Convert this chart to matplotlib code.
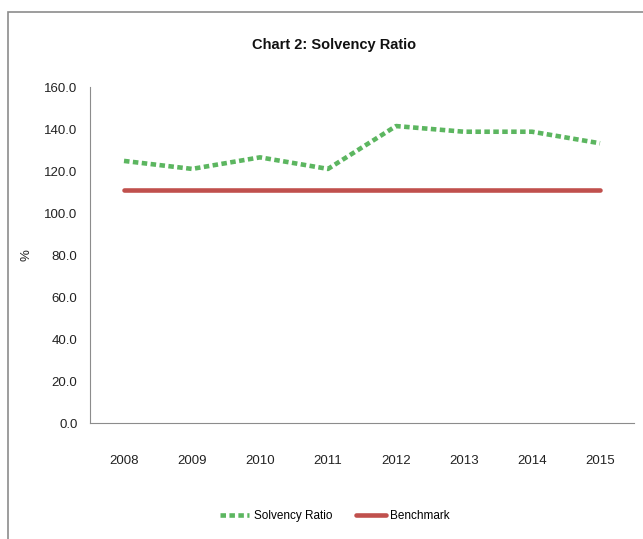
import matplotlib.pyplot as plt
from matplotlib.patches import Rectangle

years = ['2008', '2009', '2010', '2011', '2012', '2013', '2014', '2015']
solvency = [124.8, 121.0, 126.5, 121.0, 141.4, 138.7, 138.7, 133.2]
benchmark = [111, 111, 111, 111, 111, 111, 111, 111]

plt.rcParams['font.family'] = ['Liberation Sans', 'DejaVu Sans']

fig = plt.figure(figsize=(6.43, 5.39), dpi=100)
# outer chart frame
fig.patches.append(Rectangle((8 / 643, -0.05), 1.1, 1 - 12 / 539 + 0.05,
                             transform=fig.transFigure, fill=False,
                             edgecolor='#8c8c8c', linewidth=1.2))

ax = fig.add_axes([90 / 643, 1 - 423 / 539, 544 / 643, 336 / 539])
x = list(range(len(years)))
ax.plot(x, solvency, color='#5cb660', linewidth=3.3, linestyle=(0, (1.2, 0.75)),
        label='Solvency Ratio', dash_capstyle='butt')
ax.plot(x, benchmark, color='#c0504d', linewidth=3.3, label='Benchmark',
        solid_capstyle='round')

ax.set_xlim(-0.5, len(years) - 0.5)
ax.set_ylim(0, 160)
ax.set_yticks(range(0, 161, 20))
ax.set_yticklabels([f'{v:.1f}' for v in range(0, 161, 20)])
ax.set_xticks(x)
ax.set_xticklabels(years)
ax.tick_params(axis='both', length=0, labelsize=9.5, colors='#222222')
ax.tick_params(axis='y', pad=9)
ax.tick_params(axis='x', pad=23)
for side in ['top', 'right']:
    ax.spines[side].set_visible(False)
for side in ['left', 'bottom']:
    ax.spines[side].set_color('#8c8c8c')
ax.set_ylabel('%', fontsize=9.5, color='#222222')
ax.yaxis.set_label_coords(-(90 - 33) / 544, 0.5)

fig.text(334 / 643, 1 - 45 / 539, 'Chart 2: Solvency Ratio', ha='center',
         va='center', fontsize=10.5, fontweight='bold', color='#111111')

fig.legend(loc='center', bbox_to_anchor=(335 / 643, 1 - 516 / 539), ncol=2,
           frameon=False, fontsize=8.5, handlelength=2.5, handletextpad=0.4,
           columnspacing=2.0)

fig.savefig('out.png', dpi=100)
